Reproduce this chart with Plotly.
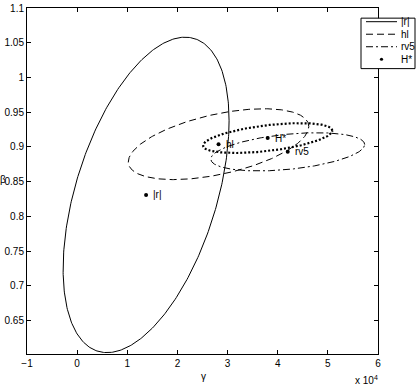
import numpy as np
import plotly.graph_objects as go

# ---- data ----
names = ["|r|", "hl", "rv5", "H*"]
gamma_center = [13750, 28200, 42000, 38000]
beta_center = [0.831, 0.904, 0.893, 0.9128]
gamma_halfwidth = [16550, 18000, 15350, 12900]
beta_halfheight = [0.227, 0.051, 0.0275, 0.0215]
corr = [0.47, 0.50, 0.38, 0.50]

x_tickvals = [-10000, 0, 10000, 20000, 30000, 40000, 50000, 60000]
x_ticktext = ["\u22121", "0", "1", "2", "3", "4", "5", "6"]
y_tickvals = [0.65, 0.7, 0.75, 0.8, 0.85, 0.9, 0.95, 1.0, 1.05, 1.1]
y_ticktext = ["0.65", "0.7", "0.75", "0.8", "0.85", "0.9", "0.95", "1", "1.05", "1.1"]

legend_names = ["|r|", "hl", "rv5", "H*"]

styles = [
    dict(dash="solid", width=1),
    dict(dash="7px,4px", width=1),
    dict(dash="7px,3px,2px,3px", width=1),
    dict(dash="2px,2px", width=2.2),
]

FONT = "Liberation Sans, Arial, sans-serif"
fig = go.Figure()

t = np.linspace(0, 2 * np.pi, 400)
for i, n in enumerate(names):
    r = corr[i]
    ex = gamma_center[i] + gamma_halfwidth[i] * np.cos(t)
    ey = beta_center[i] + beta_halfheight[i] * (r * np.cos(t) + np.sqrt(1 - r * r) * np.sin(t))
    st = styles[i]
    fig.add_trace(go.Scatter(
        x=ex, y=ey, mode="lines", name=n,
        line=dict(color="black", width=st["width"], dash=st["dash"]),
        showlegend=False, hoverinfo="skip",
    ))

fig.add_trace(go.Scatter(
    x=gamma_center, y=beta_center, mode="markers", name="H*",
    marker=dict(color="black", size=4), showlegend=False,
))

annotations = []
for i, n in enumerate(names):
    annotations.append(dict(
        text=n, x=gamma_center[i], y=beta_center[i], xref="x", yref="y",
        xanchor="left", yanchor="middle", xshift=5, showarrow=False,
        font=dict(family=FONT, size=10, color="black"),
    ))

axis_common = dict(
    showgrid=False, zeroline=False, showline=True, linecolor="black", linewidth=1,
    mirror="ticks", ticks="inside", ticklen=4, tickcolor="black", tickwidth=1,
    tickfont=dict(family=FONT, size=10, color="black"),
    ticklabeloverflow="allow",
)
fig.update_xaxes(range=[-10000, 60000.01], tickvals=x_tickvals, ticktext=x_ticktext, **axis_common)
fig.update_yaxes(range=[0.602, 1.10001], tickvals=y_tickvals, ticktext=y_ticktext, **axis_common)

# ---- custom legend box (paper coordinates, plot area 27..378 x 3..354 px) ----
def px2x(px):
    return (px - 27) / 351.0

def py2y(py):
    return 1 - (py - 3) / 351.0

shapes = [dict(type="rect", xref="paper", yref="paper",
               x0=px2x(361), x1=px2x(415), y0=py2y(64.5), y1=py2y(13.3),
               line=dict(color="black", width=1), fillcolor="white", layer="above")]
row_py = [16.9, 29.6, 42.3, 55.0]
for i, ln in enumerate(legend_names):
    yy = py2y(row_py[i])
    if i < 3:
        shapes.append(dict(type="line", xref="paper", yref="paper",
                           x0=px2x(366), x1=px2x(397), y0=yy, y1=yy,
                           line=dict(color="black", width=1, dash=styles[i]["dash"]),
                           layer="above"))
    else:
        shapes.append(dict(type="circle", xref="paper", yref="paper",
                           xsizemode="pixel", ysizemode="pixel",
                           xanchor=px2x(381.5), yanchor=yy,
                           x0=-1.6, x1=1.6, y0=-1.6, y1=1.6,
                           fillcolor="black", line=dict(color="black", width=0),
                           layer="above"))
    annotations.append(dict(
        text=ln, xref="paper", yref="paper", x=px2x(399), y=yy,
        xanchor="left", yanchor="middle", showarrow=False,
        font=dict(family=FONT, size=10, color="black"),
    ))

annotations += [
    dict(text="\u03b3", xref="paper", yref="paper", x=0.503, y=0, yshift=-22,
         xanchor="center", yanchor="middle", showarrow=False, font=dict(size=10)),
    dict(text="\u03b2", xref="paper", yref="paper", x=0, xshift=-24, y=0.503,
         xanchor="center", yanchor="middle", showarrow=False, font=dict(size=10)),
    dict(text="x 10<sup>4</sup>", xref="paper", yref="paper", x=1, xshift=2, y=0, yshift=-26,
         xanchor="right", yanchor="middle", showarrow=False, font=dict(size=10)),
]

fig.update_layout(
    width=416, height=386,
    margin=dict(l=27, r=38, t=3, b=32),
    paper_bgcolor="white", plot_bgcolor="white",
    font=dict(family=FONT, size=10, color="black"),
    showlegend=False,
    shapes=shapes,
    annotations=annotations,
)

fig.write_html("out.html")
